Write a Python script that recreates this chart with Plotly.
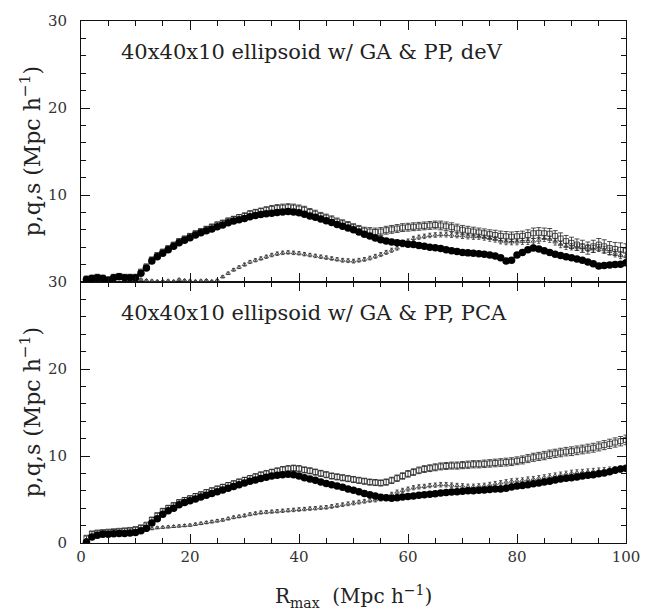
import plotly.graph_objects as go

R = list(range(1, 101))

# ---- top panel (deV) ----
C1 = [0.3,0.4,0.5,0.4,0.2,0.5,0.6,0.5,0.5,0.5,
      1.0,1.6,2.4,2.9,3.3,3.7,4.1,4.5,4.8,5.1,
      5.4,5.65,5.9,6.1,6.35,6.55,6.8,7.0,7.15,7.3,
      7.5,7.65,7.75,7.85,7.9,8.0,8.05,8.1,8.05,7.95,
      7.8,7.6,7.45,7.25,7.05,6.85,6.6,6.4,6.2,6.0,
      5.75,5.5,5.3,5.05,4.85,4.7,4.6,4.5,4.45,4.35,
      4.3,4.2,4.1,4.0,3.95,3.85,3.7,3.6,3.5,3.4,
      3.35,3.3,3.25,3.2,3.1,3.0,2.8,2.4,2.5,3.1,
      3.4,3.7,3.9,3.8,3.6,3.4,3.2,3.05,2.9,2.8,
      2.65,2.5,2.3,2.1,1.85,1.9,1.95,2.0,2.05,2.2]
S1 = [0.4,0.5,0.6,0.5,0.3,0.6,0.7,0.6,0.6,0.6,
      1.2,1.8,2.6,3.1,3.5,3.9,4.3,4.7,5.0,5.3,
      5.6,5.85,6.1,6.35,6.6,6.8,7.05,7.25,7.45,7.6,
      7.85,8.0,8.15,8.3,8.4,8.5,8.55,8.6,8.55,8.45,
      8.3,8.05,7.85,7.6,7.4,7.2,6.95,6.75,6.55,6.3,
      6.1,5.9,5.8,5.75,5.8,5.95,6.05,6.15,6.25,6.3,
      6.35,6.4,6.45,6.5,6.55,6.5,6.4,6.3,6.15,6.0,
      5.9,5.8,5.7,5.6,5.5,5.4,5.3,5.25,5.2,5.25,
      5.3,5.4,5.6,5.65,5.6,5.55,5.3,5.0,4.7,4.5,
      4.3,4.1,3.9,4.1,4.3,4.1,3.9,3.8,3.7,3.6]
T1 = [0.3,0.4,0.4,0.3,0.2,0.4,0.5,0.4,0.4,0.4,
      0.3,0.2,0.15,0.1,0.1,0.15,0.1,0.3,0.2,0.15,
      0.1,0.15,0.2,0.1,0.2,0.6,1.0,1.4,1.7,2.0,
      2.3,2.5,2.7,2.9,3.1,3.25,3.35,3.4,3.35,3.3,
      3.2,3.1,3.0,2.9,2.8,2.7,2.6,2.5,2.45,2.4,
      2.5,2.6,2.75,2.95,3.15,3.4,3.65,3.9,4.3,4.7,
      5.0,5.15,5.25,5.35,5.4,5.45,5.45,5.4,5.35,5.3,
      5.25,5.2,5.2,5.1,5.0,4.9,4.7,4.6,4.6,4.6,
      4.65,4.65,4.7,4.8,5.0,4.9,4.6,4.3,4.1,4.05,
      4.0,3.95,3.9,3.8,3.9,3.7,3.5,3.3,3.1,3.0]
ES1 = [0.1,0.1,0.1,0.1,0.1,0.1,0.1,0.1,0.1,0.1,
       0.15,0.15,0.2,0.2,0.2,0.2,0.2,0.25,0.25,0.25,
       0.25,0.25,0.3,0.3,0.3,0.3,0.3,0.3,0.3,0.35,
       0.35,0.35,0.35,0.35,0.4,0.4,0.4,0.4,0.4,0.4,
       0.4,0.4,0.4,0.4,0.4,0.4,0.4,0.4,0.4,0.4,
       0.4,0.4,0.45,0.45,0.45,0.45,0.45,0.45,0.45,0.45,
       0.45,0.45,0.45,0.45,0.45,0.5,0.5,0.5,0.5,0.5,
       0.5,0.5,0.5,0.5,0.5,0.55,0.55,0.55,0.55,0.55,
       0.55,0.6,0.6,0.6,0.6,0.6,0.6,0.65,0.65,0.65,
       0.65,0.7,0.7,0.7,0.7,0.75,0.75,0.75,0.8,0.8]
ET1 = [0.05,0.05,0.05,0.05,0.05,0.05,0.05,0.05,0.05,0.05,
       0.08,0.08,0.08,0.08,0.08,0.08,0.08,0.08,0.08,0.08,
       0.08,0.08,0.08,0.08,0.1,0.12,0.14,0.15,0.16,0.17,
       0.18,0.18,0.19,0.19,0.2,0.2,0.2,0.2,0.2,0.2,
       0.2,0.2,0.2,0.2,0.2,0.2,0.2,0.22,0.22,0.22,
       0.22,0.22,0.22,0.23,0.23,0.23,0.24,0.24,0.25,0.25,
       0.25,0.25,0.26,0.26,0.27,0.27,0.28,0.28,0.28,0.3,
       0.3,0.3,0.3,0.3,0.32,0.32,0.32,0.32,0.33,0.33,
       0.33,0.34,0.34,0.35,0.35,0.35,0.36,0.36,0.37,0.37,
       0.38,0.38,0.39,0.39,0.4,0.4,0.4,0.42,0.42,0.42]

# ---- bottom panel (PCA) ----
C2 = [0.1,0.7,0.9,1.0,1.0,1.05,1.1,1.1,1.15,1.2,
      1.4,1.7,2.3,2.8,3.3,3.7,4.0,4.4,4.65,4.85,
      5.05,5.3,5.5,5.7,5.9,6.1,6.3,6.5,6.7,6.9,
      7.1,7.25,7.4,7.55,7.7,7.8,7.85,7.9,7.85,7.7,
      7.5,7.35,7.2,7.0,6.85,6.7,6.55,6.4,6.2,6.05,
      5.9,5.7,5.55,5.4,5.25,5.2,5.15,5.2,5.3,5.35,
      5.4,5.5,5.55,5.6,5.65,5.75,5.8,5.85,5.9,5.95,
      6.0,6.0,6.05,6.1,6.15,6.2,6.2,6.3,6.45,6.55,
      6.6,6.7,6.8,6.9,7.0,7.1,7.25,7.35,7.45,7.5,
      7.6,7.7,7.8,7.85,7.95,8.05,8.2,8.35,8.5,8.6]
S2 = [0.6,1.1,1.2,1.25,1.3,1.35,1.4,1.45,1.5,1.6,
      1.8,2.1,2.7,3.2,3.7,4.05,4.35,4.7,4.95,5.15,
      5.4,5.6,5.85,6.05,6.25,6.45,6.65,6.85,7.05,7.25,
      7.45,7.65,7.85,8.0,8.15,8.3,8.45,8.55,8.6,8.55,
      8.4,8.3,8.15,8.0,7.85,7.7,7.6,7.5,7.4,7.3,
      7.2,7.1,7.0,6.95,6.9,7.0,7.2,7.45,7.7,7.95,
      8.15,8.35,8.5,8.6,8.7,8.8,8.85,8.9,8.9,8.95,
      9.0,9.05,9.05,9.1,9.15,9.2,9.25,9.3,9.35,9.45,
      9.55,9.7,9.85,9.95,10.05,10.2,10.3,10.4,10.5,10.55,
      10.65,10.75,10.85,10.95,11.1,11.25,11.4,11.55,11.7,11.85]
T2 = [0.4,0.8,0.9,0.9,0.95,1.0,1.0,1.05,1.1,1.15,
      1.3,1.5,1.65,1.75,1.8,1.85,1.9,1.95,2.0,2.05,
      2.15,2.25,2.35,2.45,2.55,2.65,2.8,2.95,3.05,3.15,
      3.3,3.4,3.5,3.55,3.6,3.65,3.7,3.75,3.8,3.85,
      3.9,3.95,4.0,4.05,4.1,4.2,4.3,4.4,4.5,4.6,
      4.7,4.8,4.9,4.95,5.05,5.3,5.6,5.85,6.05,6.2,
      6.35,6.45,6.5,6.6,6.65,6.7,6.7,6.65,6.6,6.55,
      6.5,6.5,6.55,6.6,6.7,6.8,6.9,7.0,7.1,7.15,
      7.2,7.3,7.35,7.45,7.55,7.65,7.75,7.85,7.95,8.05,
      8.1,8.15,8.2,8.25,8.3,8.35,8.4,8.45,8.5,8.55]
ES2 = [0.2,0.2,0.2,0.2,0.2,0.2,0.2,0.2,0.2,0.2,
       0.2,0.2,0.22,0.22,0.24,0.24,0.25,0.25,0.26,0.26,
       0.27,0.27,0.28,0.28,0.29,0.29,0.3,0.3,0.3,0.3,
       0.31,0.31,0.32,0.32,0.33,0.33,0.34,0.34,0.35,0.35,
       0.35,0.35,0.35,0.35,0.35,0.35,0.35,0.35,0.35,0.35,
       0.35,0.35,0.35,0.35,0.35,0.36,0.36,0.37,0.37,0.38,
       0.38,0.38,0.39,0.39,0.4,0.4,0.4,0.4,0.41,0.41,
       0.42,0.42,0.42,0.43,0.43,0.44,0.44,0.45,0.45,0.45,
       0.46,0.46,0.47,0.47,0.48,0.48,0.48,0.49,0.49,0.5,
       0.5,0.5,0.51,0.51,0.52,0.52,0.53,0.53,0.54,0.55]
ET2 = [0.1,0.1,0.1,0.1,0.1,0.1,0.1,0.1,0.1,0.1,
       0.1,0.1,0.11,0.11,0.12,0.12,0.12,0.13,0.13,0.13,
       0.14,0.14,0.14,0.15,0.15,0.15,0.16,0.16,0.16,0.17,
       0.17,0.17,0.18,0.18,0.18,0.19,0.19,0.19,0.2,0.2,
       0.2,0.2,0.2,0.2,0.21,0.21,0.21,0.21,0.22,0.22,
       0.22,0.22,0.22,0.23,0.23,0.23,0.23,0.24,0.24,0.24,
       0.24,0.25,0.25,0.25,0.25,0.26,0.26,0.26,0.26,0.27,
       0.27,0.27,0.27,0.28,0.28,0.28,0.28,0.29,0.29,0.29,
       0.29,0.3,0.3,0.3,0.3,0.31,0.31,0.31,0.31,0.32,
       0.32,0.32,0.32,0.33,0.33,0.33,0.34,0.34,0.34,0.35]

X_TICKS = [0, 20, 40, 60, 80, 100]
Y_TICKS_TOP = [10, 20, 30]
Y_TICKS_BOT = [0, 10, 20, 30]
TITLE_TOP = "40x40x10 ellipsoid w/ GA &amp; PP, deV"
TITLE_BOT = "40x40x10 ellipsoid w/ GA &amp; PP, PCA"
YLABEL = "p,q,s (Mpc h<sup>−1</sup>)"
XLABEL = "R<sub>max</sub>  (Mpc h<sup>−1</sup>)"

FONT = "DejaVu Serif"
INK = "#111111"

fig = go.Figure()

def add_panel(xa, ya, C, S, T, ES, ET):
    fig.add_trace(go.Scatter(
        x=R, y=T, xaxis=xa, yaxis=ya, mode="markers",
        marker=dict(symbol="triangle-up-open", size=4, color="#333333", line=dict(width=0.8)),
        error_y=dict(type="data", array=ET, color="#333333", thickness=0.8, width=1.5),
        showlegend=False))
    fig.add_trace(go.Scatter(
        x=R, y=S, xaxis=xa, yaxis=ya, mode="markers",
        marker=dict(symbol="square-open", size=5, color="#222222", line=dict(width=0.8)),
        error_y=dict(type="data", array=ES, color="#222222", thickness=0.8, width=2.5),
        showlegend=False))
    fig.add_trace(go.Scatter(
        x=R, y=C, xaxis=xa, yaxis=ya, mode="markers",
        marker=dict(symbol="circle", size=7.5, color="#000000"),
        showlegend=False))

add_panel("x2", "y2", C1, S1, T1, ES1, ET1)
add_panel("x", "y", C2, S2, T2, ES2, ET2)

common_x = dict(range=[0, 100], tickvals=X_TICKS, ticks="inside", ticklen=9,
                tickcolor=INK, linecolor=INK, linewidth=1, mirror="ticks",
                showgrid=False, zeroline=False,
                minor=dict(dtick=5, ticks="inside", ticklen=5, tickcolor=INK, showgrid=False),
                tickfont=dict(family=FONT, size=15, color="#333333"))
common_y = dict(range=[0, 30], ticks="inside", ticklen=9, ticklabelstandoff=10,
                tickcolor=INK, linecolor=INK, linewidth=1, mirror="ticks",
                showgrid=False, zeroline=False,
                minor=dict(dtick=2, ticks="inside", ticklen=5, tickcolor=INK, showgrid=False),
                tickfont=dict(family=FONT, size=15, color="#333333"))

fig.update_layout(
    width=658, height=610,
    margin=dict(l=81, r=32, t=12, b=67),
    paper_bgcolor="white", plot_bgcolor="white",
    xaxis=dict(anchor="y", **common_x),
    xaxis2=dict(anchor="y2", matches="x", showticklabels=False, **common_x),
    yaxis=dict(domain=[0, 0.5], anchor="x", tickvals=Y_TICKS_BOT, **common_y),
    yaxis2=dict(domain=[0.5, 1], anchor="x2", tickvals=Y_TICKS_TOP, **common_y),
)

anns = [
    dict(text=TITLE_TOP, x=0.07, y=0.94, xanchor="left", yanchor="middle", size=21),
    dict(text=TITLE_BOT, x=0.07, y=0.441, xanchor="left", yanchor="middle", size=21),
    dict(text=YLABEL, x=-0.094, y=0.75, textangle=-90, xanchor="center", yanchor="middle", size=22),
    dict(text=YLABEL, x=-0.094, y=0.25, textangle=-90, xanchor="center", yanchor="middle", size=22),
    dict(text=XLABEL, x=0.5, y=-0.102, xanchor="center", yanchor="middle", size=20),
]
for a in anns:
    sz = a.pop("size")
    fig.add_annotation(xref="paper", yref="paper", showarrow=False,
                       font=dict(family=FONT, size=sz, color="#222222"), **a)

fig.write_html("out.html")
